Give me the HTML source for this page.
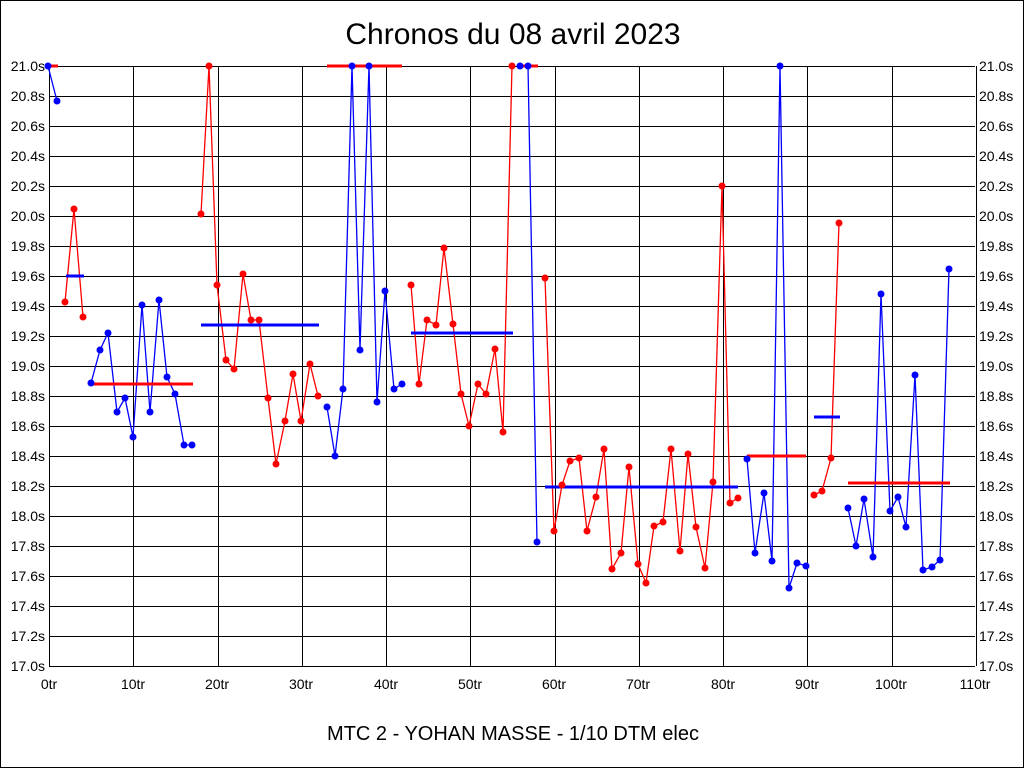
<!DOCTYPE html>
<html><head><meta charset="utf-8"><style>
html,body{margin:0;padding:0;background:#fff}
svg{display:block}
text{font-family:"Liberation Sans",Arial,sans-serif;fill:#000}
</style></head><body>
<svg id="s" width="1024" height="768" xmlns="http://www.w3.org/2000/svg">
<rect x="0.5" y="0.5" width="1023" height="767" fill="#fff" stroke="#000"/>
<g id="grid"></g>
<text x="513" y="44" font-size="30" text-anchor="middle">Chronos du 08 avril 2023</text>
<text x="513" y="740" font-size="20" text-anchor="middle">MTC 2 - YOHAN MASSE - 1/10 DTM elec</text>
<g font-size="14" text-anchor="end">
<text x="45" y="71">21.0s</text><text x="45" y="101">20.8s</text><text x="45" y="131">20.6s</text><text x="45" y="161">20.4s</text><text x="45" y="191">20.2s</text><text x="45" y="221">20.0s</text><text x="45" y="251">19.8s</text><text x="45" y="281">19.6s</text><text x="45" y="311">19.4s</text><text x="45" y="341">19.2s</text><text x="45" y="371">19.0s</text><text x="45" y="401">18.8s</text><text x="45" y="431">18.6s</text><text x="45" y="461">18.4s</text><text x="45" y="491">18.2s</text><text x="45" y="521">18.0s</text><text x="45" y="551">17.8s</text><text x="45" y="581">17.6s</text><text x="45" y="611">17.4s</text><text x="45" y="641">17.2s</text><text x="45" y="671">17.0s</text>
</g>
<g font-size="14" text-anchor="start">
<text x="979" y="71">21.0s</text><text x="979" y="101">20.8s</text><text x="979" y="131">20.6s</text><text x="979" y="161">20.4s</text><text x="979" y="191">20.2s</text><text x="979" y="221">20.0s</text><text x="979" y="251">19.8s</text><text x="979" y="281">19.6s</text><text x="979" y="311">19.4s</text><text x="979" y="341">19.2s</text><text x="979" y="371">19.0s</text><text x="979" y="401">18.8s</text><text x="979" y="431">18.6s</text><text x="979" y="461">18.4s</text><text x="979" y="491">18.2s</text><text x="979" y="521">18.0s</text><text x="979" y="551">17.8s</text><text x="979" y="581">17.6s</text><text x="979" y="611">17.4s</text><text x="979" y="641">17.2s</text><text x="979" y="671">17.0s</text>
</g>
<g font-size="14" text-anchor="middle">
<text x="49" y="689">0tr</text><text x="133" y="689">10tr</text><text x="217" y="689">20tr</text><text x="301" y="689">30tr</text><text x="386" y="689">40tr</text><text x="470" y="689">50tr</text><text x="554" y="689">60tr</text><text x="638" y="689">70tr</text><text x="723" y="689">80tr</text><text x="807" y="689">90tr</text><text x="891" y="689">100tr</text><text x="975" y="689">110tr</text>
</g>
<g id="data"></g>
</svg>
<script>
var NS="http://www.w3.org/2000/svg";
function el(p,n,a){var e=document.createElementNS(NS,n);for(var k in a)e.setAttribute(k,a[k]);p.appendChild(e);return e;}
var g=document.getElementById("grid");
for(var i=0;i<=20;i++){var y=66+i*30+0.5;el(g,"line",{x1:49,x2:975,y1:y,y2:y,stroke:"#000","stroke-width":1});}
for(var i=0;i<=11;i++){var x=Math.round(49+i*84.27)+0.5;el(g,"line",{x1:x,x2:x,y1:66,y2:666,stroke:"#000","stroke-width":1});}
var R="#ff0000",B="#0000ff";
var segs=[
 [B,R,66,48,58,[[48,66],[57,101]]],
 [R,B,276,66,84,[[65,302],[74,209],[83,317]]],
 [B,R,384,91,193,[[91,383],[100,350],[108,333],[117,412],[125,398],[133,437],[142,305],[150,412],[159,300],[167,377],[175,394],[184,445],[192,445]]],
 [R,B,325,201,319,[[201,214],[209,66],[217,285],[226,360],[234,369],[243,274],[251,320],[259,320],[268,398],[276,464],[285,421],[293,374],[301,421],[310,364],[318,396]]],
 [B,R,66,327,402,[[327,407],[335,456],[343,389],[352,66],[360,350],[369,66],[377,402],[385,291],[394,389],[402,384]]],
 [R,B,333,411,513,[[411,285],[419,384],[427,320],[436,325],[444,248],[453,324],[461,394],[469,426],[478,384],[486,394],[495,349],[503,432],[512,66]]],
 [B,R,66,520,538,[[520,66],[528,66],[537,542]]],
 [R,B,487,545,738,[[545,278],[554,531],[562,485],[570,461],[579,458],[587,531],[596,497],[604,449],[612,569],[621,553],[629,467],[638,564],[646,583],[654,526],[663,522],[671,449],[680,551],[688,454],[696,527],[705,568],[713,482],[722,186],[730,503],[738,498]]],
 [B,R,456,747,806,[[747,459],[755,553],[764,493],[772,561],[780,66],[789,588],[797,563],[806,566]]],
 [R,B,417,814,840,[[814,495],[822,491],[831,458],[839,223]]],
 [B,R,483,848,950,[[848,508],[856,546],[864,499],[873,557],[881,294],[890,511],[898,497],[906,527],[915,375],[923,570],[932,567],[940,560],[949,269]]]
];
var d=document.getElementById("data");
segs.forEach(function(s){
 el(d,"polyline",{points:s[5].map(function(p){return p.join(",")}).join(" "),fill:"none",stroke:s[0],"stroke-width":1.3});
});
segs.forEach(function(s){
 el(d,"line",{x1:s[3],x2:s[4],y1:s[2],y2:s[2],stroke:s[1],"stroke-width":3});
});
segs.forEach(function(s){
 s[5].forEach(function(p){el(d,"circle",{cx:p[0],cy:p[1],r:3.5,fill:s[0]});});
});
</script>
</body></html>
